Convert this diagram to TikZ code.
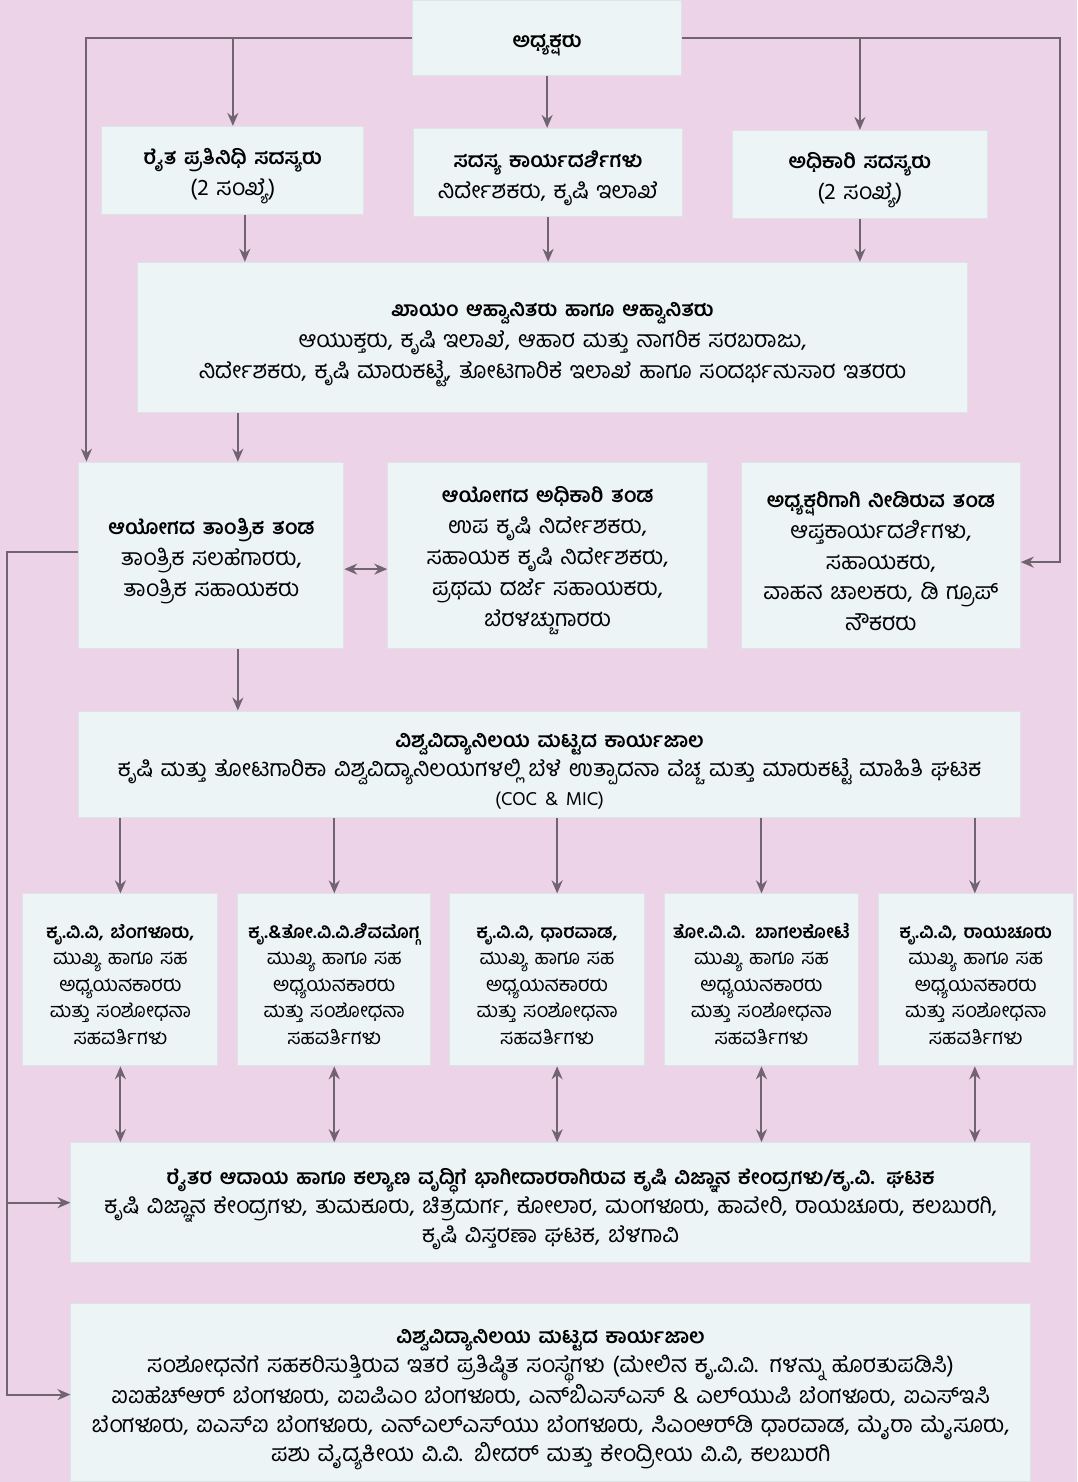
\documentclass[tikz,border=0pt]{standalone}
\usepackage{fontspec}
\usepackage{tikz}
\usepackage{xcolor}
\usetikzlibrary{arrows.meta}
\newfontfamily\kannada[Script=Kannada]{Hind Mysuru}
\definecolor{pagepink}{HTML}{EDD3E8}
\definecolor{boxwhite}{HTML}{ECF4F5}
\definecolor{boxedge}{HTML}{DCE4E6}
\definecolor{linegrey}{HTML}{6F6470}
\newcommand\boxhead[1]{{\fontsize{20.5}{31}\selectfont\bfseries #1}}
\newcommand\smallhead[1]{{\fontsize{18.5}{26.5}\selectfont\bfseries #1}}
\tikzset{
    flat-box/.style = {draw=boxedge, fill=boxwhite, line width=1pt, rectangle, inner sep=0pt, align=center, text height=28pt, font=\kannada\fontsize{23}{31}\selectfont},
    wide-box/.style = {flat-box, font=\kannada\fontsize{23}{29}\selectfont},
    small-box/.style = {flat-box, text height=23pt, font=\kannada\fontsize{20}{26.5}\selectfont},
    box-wh/.style 2 args = {minimum width=#1, minimum height=#2, text width=#1-12pt},
    flow-arrow/.style = {draw=linegrey, line width=2pt, -{Stealth[length=13pt,width=11pt]}},
    both-arrow/.style = {flow-arrow, {Stealth[length=13pt,width=11pt]}-{Stealth[length=13pt,width=11pt]}},
}

\begin{document}
\begin{tikzpicture}[x=1pt,y=-1pt]
\fill[pagepink] (0,0) rectangle (1078,1482);
\node [flat-box, box-wh={269pt}{75pt}] (chair) at (547.5,37.5) {\boxhead{ಅಧ್ಯಕ್ಷರು}};
\node [flat-box, box-wh={262pt}{88pt}] (farmer) at (233,170) {\boxhead{ರೈತ ಪ್ರತಿನಿಧಿ ಸದಸ್ಯರು}\\(2 ಸಂಖ್ಯೆ)};
\node [flat-box, box-wh={269pt}{88pt}] (secy) at (548.5,172) {\boxhead{ಸದಸ್ಯ ಕಾರ್ಯದರ್ಶಿಗಳು}\\ನಿರ್ದೇಶಕರು, ಕೃಷಿ ಇಲಾಖೆ};
\node [flat-box, box-wh={255pt}{88pt}] (officer) at (860.5,174) {\boxhead{ಅಧಿಕಾರಿ ಸದಸ್ಯರು}\\(2 ಸಂಖ್ಯೆ)};
\node [flat-box, box-wh={830pt}{150pt}] (invitees) at (553,337) {\boxhead{ಖಾಯಂ ಆಹ್ವಾನಿತರು ಹಾಗೂ ಆಹ್ವಾನಿತರು}\\ಆಯುಕ್ತರು, ಕೃಷಿ ಇಲಾಖೆ, ಆಹಾರ ಮತ್ತು ನಾಗರಿಕ ಸರಬರಾಜು,\\ನಿರ್ದೇಶಕರು, ಕೃಷಿ ಮಾರುಕಟ್ಟೆ, ತೋಟಗಾರಿಕೆ ಇಲಾಖೆ ಹಾಗೂ ಸಂದರ್ಭನುಸಾರ ಇತರರು};
\node [flat-box, box-wh={265pt}{186pt}] (tech) at (211.5,555) {\boxhead{ಆಯೋಗದ ತಾಂತ್ರಿಕ ತಂಡ}\\ತಾಂತ್ರಿಕ ಸಲಹೆಗಾರರು,\\ತಾಂತ್ರಿಕ ಸಹಾಯಕರು};
\node [flat-box, box-wh={320pt}{186pt}] (admin) at (548,555) {\boxhead{ಆಯೋಗದ ಅಧಿಕಾರಿ ತಂಡ}\\ಉಪ ಕೃಷಿ ನಿರ್ದೇಶಕರು,\\ಸಹಾಯಕ ಕೃಷಿ ನಿರ್ದೇಶಕರು,\\ಪ್ರಥಮ ದರ್ಜೆ ಸಹಾಯಕರು,\\ಬೆರಳಚ್ಚುಗಾರರು};
\node [flat-box, box-wh={279pt}{186pt}] (chairteam) at (881.5,555) {\boxhead{ಅಧ್ಯಕ್ಷರಿಗಾಗಿ ನೀಡಿರುವ ತಂಡ}\\ಆಪ್ತಕಾರ್ಯದರ್ಶಿಗಳು,\\ಸಹಾಯಕರು,\\ವಾಹನ ಚಾಲಕರು, ಡಿ ಗ್ರೂಪ್\\ನೌಕರರು};
\node [wide-box, box-wh={942pt}{107pt}] (univ) at (550,764.5) {\boxhead{ವಿಶ್ವವಿದ್ಯಾನಿಲಯ ಮಟ್ಟದ ಕಾರ್ಯಜಾಲ}\\ಕೃಷಿ ಮತ್ತು ತೋಟಗಾರಿಕಾ ವಿಶ್ವವಿದ್ಯಾನಿಲಯಗಳಲ್ಲಿ ಬೆಳೆ ಉತ್ಪಾದನಾ ವೆಚ್ಚ ಮತ್ತು ಮಾರುಕಟ್ಟೆ ಮಾಹಿತಿ ಘಟಕ\\{\fontsize{19}{29}\selectfont(COC \& MIC)}};
\node [small-box, box-wh={195pt}{172pt}] (kvv-blr) at (120.5,980) {\smallhead{ಕೃ.ವಿ.ವಿ, ಬೆಂಗಳೂರು,}\\ಮುಖ್ಯ ಹಾಗೂ ಸಹ\\ಅಧ್ಯಯನಕಾರರು\\ಮತ್ತು ಸಂಶೋಧನಾ\\ಸಹವರ್ತಿಗಳು};
\node [small-box, box-wh={193pt}{172pt}] (kvv-smg) at (334.5,980) {\smallhead{ಕೃ.\&ತೋ.ವಿ.ವಿ.ಶಿವಮೊಗ್ಗ}\\ಮುಖ್ಯ ಹಾಗೂ ಸಹ\\ಅಧ್ಯಯನಕಾರರು\\ಮತ್ತು ಸಂಶೋಧನಾ\\ಸಹವರ್ತಿಗಳು};
\node [small-box, box-wh={195pt}{172pt}] (kvv-dwd) at (547.5,980) {\smallhead{ಕೃ.ವಿ.ವಿ, ಧಾರವಾಡ,}\\ಮುಖ್ಯ ಹಾಗೂ ಸಹ\\ಅಧ್ಯಯನಕಾರರು\\ಮತ್ತು ಸಂಶೋಧನಾ\\ಸಹವರ್ತಿಗಳು};
\node [small-box, box-wh={194pt}{172pt}] (tvv-bgk) at (762,980) {\smallhead{ತೋ.ವಿ.ವಿ. ಬಾಗಲಕೋಟೆ}\\ಮುಖ್ಯ ಹಾಗೂ ಸಹ\\ಅಧ್ಯಯನಕಾರರು\\ಮತ್ತು ಸಂಶೋಧನಾ\\ಸಹವರ್ತಿಗಳು};
\node [small-box, box-wh={195pt}{172pt}] (kvv-rcr) at (976.5,980) {\smallhead{ಕೃ.ವಿ.ವಿ, ರಾಯಚೂರು}\\ಮುಖ್ಯ ಹಾಗೂ ಸಹ\\ಅಧ್ಯಯನಕಾರರು\\ಮತ್ತು ಸಂಶೋಧನಾ\\ಸಹವರ್ತಿಗಳು};
\node [wide-box, box-wh={960pt}{120pt}] (kvk) at (551,1203) {\boxhead{ರೈತರ ಆದಾಯ ಹಾಗೂ ಕಲ್ಯಾಣ ವೃದ್ಧಿಗೆ ಭಾಗೀದಾರರಾಗಿರುವ ಕೃಷಿ ವಿಜ್ಞಾನ ಕೇಂದ್ರಗಳು/ಕೃ.ವಿ. ಘಟಕ}\\ಕೃಷಿ ವಿಜ್ಞಾನ ಕೇಂದ್ರಗಳು, ತುಮಕೂರು, ಚಿತ್ರದುರ್ಗ, ಕೋಲಾರ, ಮಂಗಳೂರು, ಹಾವೇರಿ, ರಾಯಚೂರು, ಕಲಬುರಗಿ,\\ಕೃಷಿ ವಿಸ್ತರಣಾ ಘಟಕ, ಬೆಳಗಾವಿ};
\node [wide-box, box-wh={960pt}{178pt}] (other) at (551,1393) {\boxhead{ವಿಶ್ವವಿದ್ಯಾನಿಲಯ ಮಟ್ಟದ ಕಾರ್ಯಜಾಲ}\\ಸಂಶೋಧನೆಗೆ ಸಹಕರಿಸುತ್ತಿರುವ ಇತರೆ ಪ್ರತಿಷ್ಠಿತ ಸಂಸ್ಥೆಗಳು (ಮೇಲಿನ ಕೃ.ವಿ.ವಿ. ಗಳನ್ನು ಹೊರತುಪಡಿಸಿ)\\ಐಐಹೆಚ್^^^^200cಆರ್ ಬೆಂಗಳೂರು, ಐಐಪಿಎಂ ಬೆಂಗಳೂರು, ಎನ್^^^^200cಬಿಎಸ್^^^^200cಎಸ್ \& ಎಲ್^^^^200cಯುಪಿ ಬೆಂಗಳೂರು, ಐಎಸ್^^^^200cಇಸಿ\\ಬೆಂಗಳೂರು, ಐಎಸ್^^^^200cಐ ಬೆಂಗಳೂರು, ಎನ್^^^^200cಎಲ್^^^^200cಎಸ್^^^^200cಯು ಬೆಂಗಳೂರು, ಸಿಎಂಆರ್^^^^200cಡಿ ಧಾರವಾಡ, ಮೈರಾ ಮೈಸೂರು,\\ಪಶು ವೈದ್ಯಕೀಯ ವಿ.ವಿ. ಬೀದರ್ ಮತ್ತು ಕೇಂದ್ರೀಯ ವಿ.ವಿ, ಕಲಬುರಗಿ};
\coordinate (rail-r) at (1061,562);
\coordinate (rail-l) at (7,1395);
\coordinate (tech-out) at ([xshift=26.5pt]tech.north);
\draw[flow-arrow] (chair.west) -| ([xshift=8pt]tech.north west);
\draw[flow-arrow] (farmer.north |- chair.west) -- (farmer.north);
\draw[flow-arrow] (chair.south) -- (chair.south |- secy.north);
\draw[flow-arrow] (officer.north |- chair.east) -- (officer.north);
\draw[flow-arrow] (chair.east) -| (rail-r) -- (rail-r -| chairteam.east);
\draw[flow-arrow] ([xshift=12pt]farmer.south) -- ([xshift=12pt]farmer.south |- invitees.north);
\draw[flow-arrow] (secy.south) -- (secy.south |- invitees.north);
\draw[flow-arrow] (officer.south) -- (officer.south |- invitees.north);
\draw[flow-arrow] (tech-out |- invitees.south) -- (tech-out);
\draw[both-arrow] ([yshift=-14pt]tech.east) -- ([yshift=-14pt]admin.west);
\draw[flow-arrow] ([yshift=3pt]tech.west) -| (rail-l) -- (rail-l -| other.west);
\draw[flow-arrow] (kvk.west -| rail-l) -- (kvk.west);
\draw[flow-arrow] (tech-out |- tech.south) -- (tech-out |- univ.north);
\foreach \n/\dx in {kvv-blr/0, kvv-smg/0, kvv-dwd/10, tvv-bgk/0, kvv-rcr/-1} {
    \draw[flow-arrow] ([xshift=\dx pt]\n.north |- univ.south) -- ([xshift=\dx pt]\n.north);
    \draw[both-arrow] ([xshift=\dx pt]\n.south) -- ([xshift=\dx pt]\n.south |- kvk.north);
}
\end{tikzpicture}
\end{document}
